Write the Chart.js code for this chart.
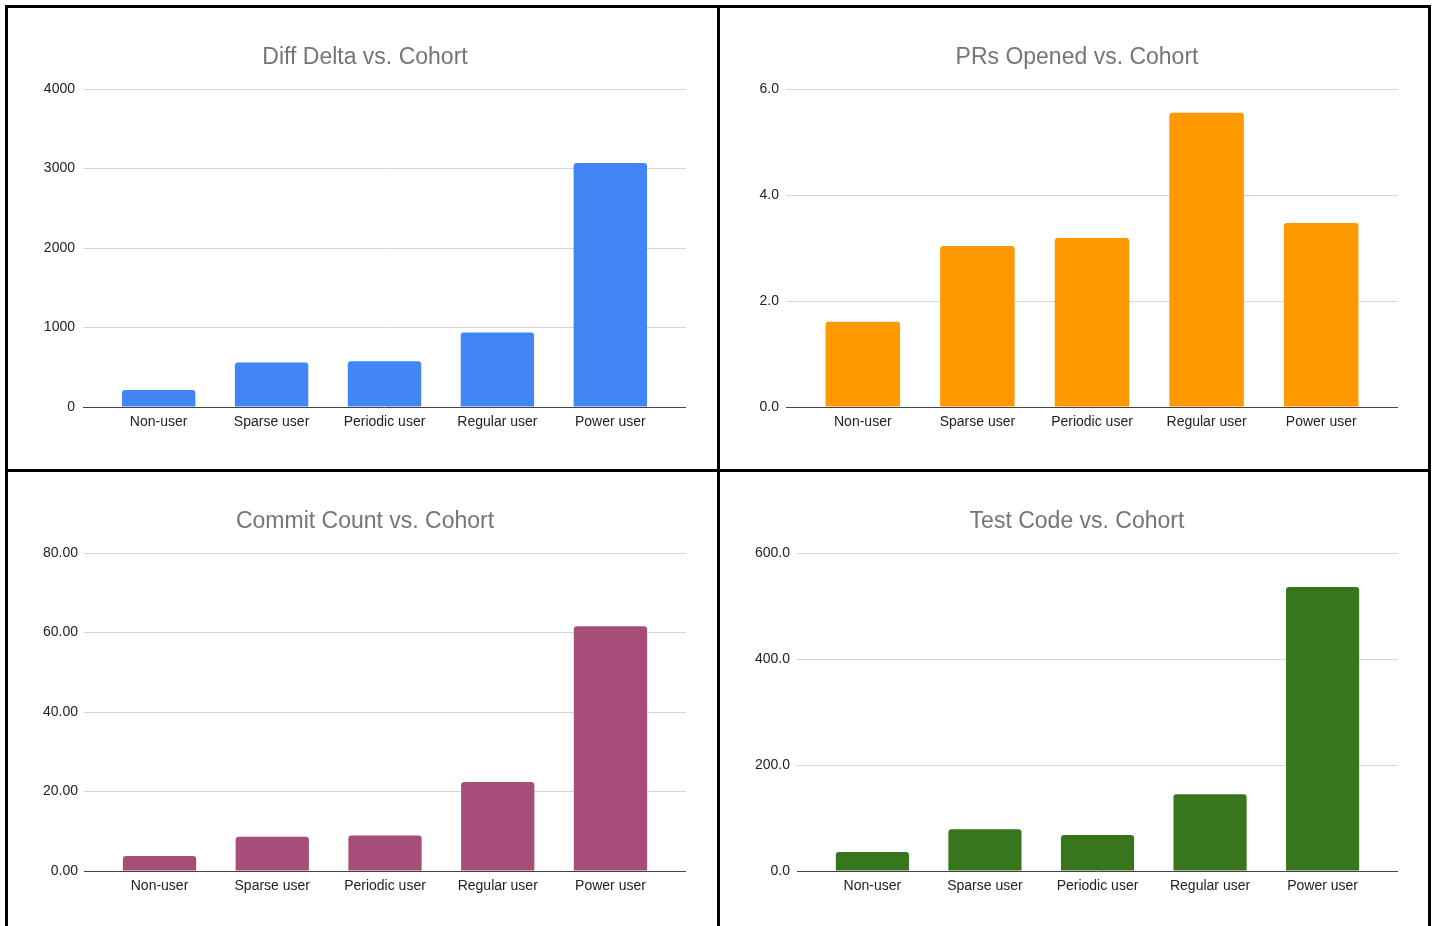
<!DOCTYPE html>
<html>
<head>
<meta charset="utf-8">
<script src="https://cdn.jsdelivr.net/npm/chart.js@4.4.1/dist/chart.umd.min.js"></script>
<style>
  html, body { margin: 0; padding: 0; background: #ffffff; width: 1435px; height: 926px; overflow: hidden; }
  #frame { position: absolute; left: 5px; top: 5px; width: 1426px; height: 930px; background: #000000; }
  .panel { position: absolute; background: #ffffff; }
  canvas { display: block; }
</style>
</head>
<body>
<div id="frame"></div>
<div class="panel" style="left:8px;top:8px;width:709px;height:461px;"><canvas id="c1" width="709" height="461"></canvas></div>
<div class="panel" style="left:720px;top:8px;width:708px;height:461px;"><canvas id="c2" width="708" height="461"></canvas></div>
<div class="panel" style="left:8px;top:472px;width:709px;height:460px;"><canvas id="c3" width="709" height="454"></canvas></div>
<div class="panel" style="left:720px;top:472px;width:708px;height:460px;"><canvas id="c4" width="708" height="454"></canvas></div>
<script>
// ---- Data ----
const categories = ['Non-user', 'Sparse user', 'Periodic user', 'Regular user', 'Power user'];
const diffDelta   = [214, 560, 575, 938, 3068];
const prsOpened   = [1.61, 3.04, 3.19, 5.55, 3.47];
const commitCount = [3.8, 8.6, 8.9, 22.4, 61.6];
const testCode    = [36, 79, 68, 145, 536];

const diffTicks   = [0, 1000, 2000, 3000, 4000];
const prsTicks    = [0, 2, 4, 6];
const commitTicks = [0, 20, 40, 60, 80];
const testTicks   = [0, 200, 400, 600];

Chart.defaults.font.family = '"Liberation Sans", Arial, Helvetica, sans-serif';
Chart.defaults.animation = false;

// shifts the title's horizontal span so it is centred like the reference
const titleSpan = {
  id: 'titleSpan',
  afterLayout(chart) {
    const t = chart.titleBlock;
    if (t) { t.left = 36; t.right = chart.chartArea.right; }
  }
};

function makeChart(id, title, values, color, yTicks, decimals, yWidth, yPad, padRight, xHeight) {
  const ctx = document.getElementById(id);
  return new Chart(ctx, {
    type: 'bar',
    data: {
      datasets: [{
        data: values.map((v, i) => ({ x: i, y: v })),
        backgroundColor: color,
        borderWidth: 0,
        borderRadius: 3,
        barPercentage: 0.65,
        categoryPercentage: 1.0
      }]
    },
    plugins: [titleSpan],
    options: {
      responsive: false,
      animation: false,
      events: [],
      layout: { padding: { left: 0, right: padRight, top: 0, bottom: 0 } },
      plugins: {
        legend: { display: false },
        tooltip: { enabled: false },
        title: {
          display: true,
          text: title,
          color: '#757575',
          font: { size: 23, weight: 'normal' },
          padding: { top: 36, bottom: 17.4 }
        }
      },
      scales: {
        x: {
          type: 'linear',
          min: -0.67,
          max: 4.67,
          offset: false,
          grid: { display: false, drawTicks: false, tickLength: 0, offset: false },
          border: { display: false },
          afterBuildTicks: s => { s.ticks = categories.map((_, i) => ({ value: i })); },
          afterFit: s => { s.height = xHeight; },
          ticks: {
            autoSkip: false,
            maxRotation: 0,
            padding: 7,
            color: '#222222',
            font: { size: 14 },
            callback: v => categories[v] !== undefined ? categories[v] : ''
          }
        },
        y: {
          min: yTicks[0],
          max: yTicks[yTicks.length - 1],
          afterBuildTicks: s => { s.ticks = yTicks.map(v => ({ value: v })); },
          afterFit: s => { s.width = yWidth; },
          border: { display: false },
          grid: {
            drawTicks: false,
            tickLength: 0,
            lineWidth: 1,
            color: c => (c.tick && c.tick.value === 0) ? '#444444' : '#d6d6d6'
          },
          ticks: {
            padding: yPad,
            color: '#222222',
            font: { size: 14 },
            callback: v => Number(v).toFixed(decimals)
          }
        }
      }
    }
  });
}

makeChart('c1', 'Diff Delta vs. Cohort', diffDelta, '#4285F4', diffTicks, 0, 75, 8, 31, 62);
makeChart('c2', 'PRs Opened vs. Cohort', prsOpened, '#FF9900', prsTicks, 1, 66, 7, 30, 62);
makeChart('c3', 'Commit Count vs. Cohort', commitCount, '#A64D79', commitTicks, 2, 76, 6, 31, 55);
makeChart('c4', 'Test Code vs. Cohort', testCode, '#38761D', testTicks, 1, 77, 7, 30, 55);
</script>
</body>
</html>
